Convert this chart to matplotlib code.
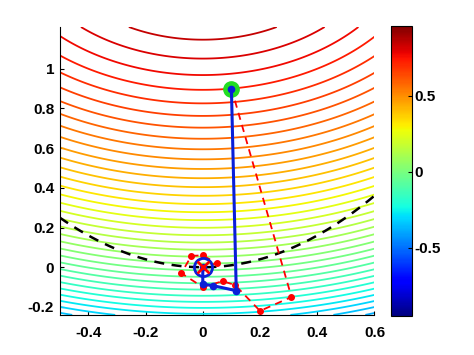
import numpy as np
import matplotlib
matplotlib.use('Agg')
import matplotlib.pyplot as plt
from matplotlib import cm, colors

# contour field: circles round a point above the axes
center_x = 0.0
center_y = 1.7
peak = 0.948
scale = 0.327
cmin, cmax = -0.95, 0.96
n_levels = 50

# constraint curve y = x^2 (dashed)
curve_x = np.linspace(-0.5, 0.6, 60)

# iterates (blue solid) and second method (red dashed)
blue_x = [0.10, 0.117, 0.036, 0.0, 0.0]
blue_y = [0.90, -0.118, -0.093, -0.085, 0.0]
red_x = [0.10, 0.31, 0.20, 0.113, 0.07, 0.0, -0.075, -0.04, 0.0, 0.048, 0.0]
red_y = [0.90, -0.15, -0.22, -0.09, -0.07, -0.10, -0.03, 0.057, 0.06, 0.02, 0.0]
start = (0.10, 0.90)
optimum = (0.0, 0.0)

xticks = [-0.4, -0.2, 0, 0.2, 0.4, 0.6]
yticks = [-0.2, 0, 0.2, 0.4, 0.6, 0.8, 1]
cbar_ticks = [-0.5, 0, 0.5]

plt.rcParams['font.family'] = ['Liberation Sans', 'DejaVu Sans']
plt.rcParams['font.weight'] = 'bold'
plt.rcParams['font.size'] = 11

fig = plt.figure(figsize=(4.74, 3.55), dpi=100)
ax = fig.add_axes([0.126, 0.113, 0.664, 0.811])

gx, gy = np.meshgrid(np.linspace(-0.5, 0.6, 300), np.linspace(-0.24, 1.21, 400))
z = peak - scale * ((gx - center_x) ** 2 + (gy - center_y) ** 2)
levels = np.linspace(cmin, cmax, n_levels + 2)[1:-1]
norm = colors.Normalize(vmin=cmin, vmax=cmax)
ax.contour(gx, gy, z, levels=levels, cmap='jet', norm=norm, linewidths=1.3)

ax.plot(curve_x, curve_x ** 2, 'k--', lw=1.8, dashes=(4, 3))

ax.plot(red_x, red_y, '--', color='red', lw=1.3, dashes=(4, 3),
        marker='o', ms=4, mfc='red', mec='red')
ax.plot(start[0], start[1], 'o', color='#22dd22', ms=11)
ax.plot(blue_x, blue_y, '-', color='#0a1fd8', lw=2.2,
        marker='o', ms=4.5, mfc='#0a1fd8', mec='#0a1fd8')
ax.plot(optimum[0], optimum[1], 'o', ms=13, mfc='none', mec='#0a1fd8', mew=2)
ax.plot(optimum[0], optimum[1], 'x', ms=8, color='red', mew=2)

ax.set_xlim(-0.5, 0.6)
ax.set_ylim(-0.24, 1.21)
ax.set_xticks(xticks)
ax.set_xticklabels(['-0.4', '-0.2', '0', '0.2', '0.4', '0.6'])
ax.set_yticks(yticks)
ax.set_yticklabels(['-0.2', '0', '0.2', '0.4', '0.6', '0.8', '1'])
ax.tick_params(direction='in', length=3, width=0.8)
ax.tick_params(axis='x', pad=8)
ax.tick_params(axis='y', pad=4)
ax.spines['top'].set_visible(False)
ax.spines['right'].set_visible(False)

cax = fig.add_axes([0.825, 0.110, 0.044, 0.817])
sm = cm.ScalarMappable(norm=norm, cmap='jet')
cb = fig.colorbar(sm, cax=cax, ticks=cbar_ticks)
cb.ax.set_yticklabels(['-0.5', '0', '0.5'])
cb.ax.tick_params(direction='in', length=3, width=0.8, pad=2)
cb.outline.set_linewidth(0.8)

fig.savefig('out.png', dpi=100)
